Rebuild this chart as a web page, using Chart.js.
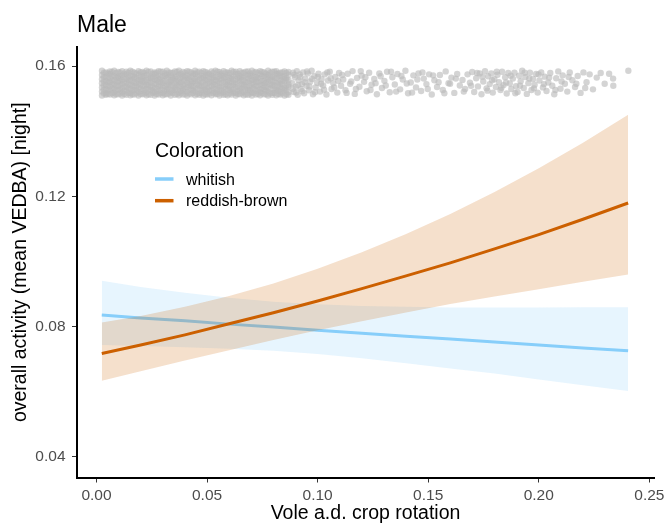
<!DOCTYPE html>
<html>
<head>
<meta charset="utf-8">
<title>Male – overall activity</title>
<script src="https://cdn.jsdelivr.net/npm/chart.js@4.4.1/dist/chart.umd.min.js"></script>
<style>
  html, body { margin: 0; padding: 0; background: #ffffff; }
  #wrap { width: 667px; height: 527px; }
</style>
</head>
<body>
<div id="wrap"><canvas id="chart" width="667" height="527"></canvas></div>
<script>
// ---- predicted activity curves (x = vole a.d. crop rotation) ----
const fitX = [0.0024, 0.02, 0.04, 0.06, 0.08, 0.10, 0.12, 0.14, 0.16, 0.18, 0.20, 0.22, 0.2404];

const whitishFit   = [0.0836, 0.0827, 0.0818, 0.0808, 0.0799, 0.0789, 0.0780, 0.0771, 0.0762, 0.0753, 0.0744, 0.0735, 0.0726];
const whitishLower = [0.0744, 0.0741, 0.0737, 0.0732, 0.0726, 0.0716, 0.0703, 0.0688, 0.0672, 0.0656, 0.0638, 0.0620, 0.0603];
const whitishUpper = [0.0941, 0.0922, 0.0904, 0.0889, 0.0877, 0.0869, 0.0864, 0.0861, 0.0859, 0.0859, 0.0859, 0.0860, 0.0860];

const reddishFit   = [0.0718, 0.0744, 0.0775, 0.0809, 0.0843, 0.0879, 0.0917, 0.0956, 0.0996, 0.1039, 0.1083, 0.1130, 0.1180];
const reddishLower = [0.0634, 0.0663, 0.0696, 0.0728, 0.0759, 0.0789, 0.0817, 0.0844, 0.0870, 0.0893, 0.0915, 0.0938, 0.0960];
const reddishUpper = [0.0813, 0.0833, 0.0861, 0.0894, 0.0933, 0.0978, 0.1029, 0.1085, 0.1146, 0.1214, 0.1287, 0.1365, 0.1451];

// ---- observed nights (jittered rug at the top) ----
// dense stretch at low crop rotation: one x per column, several nights per column
const denseColumnX = [0.0025, 0.0043, 0.0061, 0.0080, 0.0098, 0.0116, 0.0135, 0.0153, 0.0171, 0.0190,
                      0.0208, 0.0226, 0.0245, 0.0263, 0.0281, 0.0300, 0.0318, 0.0336, 0.0355, 0.0373,
                      0.0391, 0.0410, 0.0428, 0.0446, 0.0465, 0.0483, 0.0501, 0.0520, 0.0538, 0.0556,
                      0.0575, 0.0593, 0.0611, 0.0630, 0.0648, 0.0666, 0.0685, 0.0703, 0.0721, 0.0740,
                      0.0758, 0.0776, 0.0795, 0.0813, 0.0831, 0.0850, 0.0868,
                      0.0034, 0.0052, 0.0070, 0.0089, 0.0107, 0.0125, 0.0144, 0.0162, 0.0180, 0.0199,
                      0.0217, 0.0235, 0.0254, 0.0272, 0.0290, 0.0309, 0.0327, 0.0345, 0.0364, 0.0382,
                      0.0400, 0.0419, 0.0437, 0.0455, 0.0474, 0.0492, 0.0510, 0.0529, 0.0547, 0.0565,
                      0.0584, 0.0602, 0.0620, 0.0639, 0.0657, 0.0675, 0.0694, 0.0712, 0.0730, 0.0749,
                      0.0767, 0.0785, 0.0804, 0.0822, 0.0840, 0.0859];
const denseColumnY = [
  [0.1586, 0.1573, 0.1560, 0.1548, 0.1535, 0.1522, 0.1510],
  [0.1581, 0.1568, 0.1555, 0.1543, 0.1530, 0.1517, 0.1512],
  [0.1584, 0.1576, 0.1563, 0.1551, 0.1538, 0.1525, 0.1513],
  [0.1586, 0.1570, 0.1557, 0.1545, 0.1532, 0.1519, 0.1511],
  [0.1582, 0.1569, 0.1564, 0.1552, 0.1539, 0.1527, 0.1514],
  [0.1585, 0.1572, 0.1558, 0.1546, 0.1533, 0.1520, 0.1510],
  [0.1583, 0.1575, 0.1561, 0.1549, 0.1536, 0.1523, 0.1512],
  [0.1586, 0.1571, 0.1559, 0.1544, 0.1531, 0.1518, 0.1511],
  [0.1580, 0.1567, 0.1562, 0.1550, 0.1537, 0.1526, 0.1513],
  [0.1585, 0.1574, 0.1556, 0.1547, 0.1534, 0.1521, 0.1510],
  [0.1582, 0.1570, 0.1560, 0.1553, 0.1540, 0.1524, 0.1514],
  [0.1586, 0.1573, 0.1557, 0.1544, 0.1532, 0.1519, 0.1511],
  [0.1584, 0.1568, 0.1563, 0.1549, 0.1536, 0.1527, 0.1512],
  [0.1581, 0.1576, 0.1559, 0.1546, 0.1533, 0.1520, 0.1510],
  [0.1585, 0.1571, 0.1561, 0.1551, 0.1538, 0.1523, 0.1513],
  [0.1583, 0.1569, 0.1556, 0.1548, 0.1535, 0.1518, 0.1511],
  [0.1586, 0.1574, 0.1564, 0.1545, 0.1530, 0.1525, 0.1514],
  [0.1580, 0.1572, 0.1558, 0.1552, 0.1539, 0.1521, 0.1510],
  [0.1584, 0.1567, 0.1562, 0.1547, 0.1534, 0.1526, 0.1512],
  [0.1586, 0.1575, 0.1557, 0.1550, 0.1537, 0.1519, 0.1511],
  [0.1582, 0.1570, 0.1560, 0.1543, 0.1531, 0.1524, 0.1513],
  [0.1585, 0.1573, 0.1563, 0.1549, 0.1536, 0.1520, 0.1510],
  [0.1581, 0.1568, 0.1555, 0.1546, 0.1540, 0.1527, 0.1514],
  [0.1586, 0.1576, 0.1561, 0.1553, 0.1533, 0.1522, 0.1511],
  [0.1583, 0.1571, 0.1559, 0.1544, 0.1538, 0.1518, 0.1512],
  [0.1585, 0.1569, 0.1564, 0.1550, 0.1532, 0.1525, 0.1510],
  [0.1580, 0.1574, 0.1557, 0.1547, 0.1535, 0.1521, 0.1513],
  [0.1584, 0.1572, 0.1562, 0.1551, 0.1539, 0.1526, 0.1511],
  [0.1586, 0.1567, 0.1558, 0.1545, 0.1530, 0.1519, 0.1514],
  [0.1582, 0.1575, 0.1560, 0.1548, 0.1537, 0.1523, 0.1510],
  [0.1585, 0.1570, 0.1563, 0.1552, 0.1534, 0.1520, 0.1512],
  [0.1581, 0.1573, 0.1556, 0.1543, 0.1540, 0.1527, 0.1511],
  [0.1586, 0.1568, 0.1561, 0.1549, 0.1531, 0.1522, 0.1513],
  [0.1583, 0.1576, 0.1559, 0.1546, 0.1536, 0.1518, 0.1510],
  [0.1585, 0.1571, 0.1564, 0.1553, 0.1533, 0.1525, 0.1514],
  [0.1580, 0.1569, 0.1557, 0.1544, 0.1538, 0.1521, 0.1511],
  [0.1584, 0.1574, 0.1562, 0.1550, 0.1532, 0.1526, 0.1512],
  [0.1586, 0.1572, 0.1558, 0.1547, 0.1535, 0.1519, 0.1510],
  [0.1582, 0.1567, 0.1560, 0.1551, 0.1539, 0.1524, 0.1513],
  [0.1585, 0.1575, 0.1563, 0.1545, 0.1530, 0.1520, 0.1511],
  [0.1581, 0.1570, 0.1556, 0.1548, 0.1537, 0.1527, 0.1514],
  [0.1586, 0.1573, 0.1561, 0.1552, 0.1534, 0.1522, 0.1510],
  [0.1583, 0.1568, 0.1559, 0.1543, 0.1540, 0.1518, 0.1512],
  [0.1585, 0.1576, 0.1564, 0.1549, 0.1531, 0.1525, 0.1511],
  [0.1580, 0.1571, 0.1557, 0.1546, 0.1536, 0.1521, 0.1513],
  [0.1584, 0.1569, 0.1562, 0.1553, 0.1533, 0.1526, 0.1510],
  [0.1582, 0.1574, 0.1558, 0.1544, 0.1538, 0.1520, 0.1512],
  [0.1580, 0.1567, 0.1554, 0.1541, 0.1528, 0.1516],
  [0.1578, 0.1564, 0.1551, 0.1539, 0.1526, 0.1515],
  [0.1582, 0.1569, 0.1556, 0.1543, 0.1530, 0.1517],
  [0.1579, 0.1566, 0.1553, 0.1540, 0.1527, 0.1514],
  [0.1581, 0.1565, 0.1555, 0.1542, 0.1529, 0.1516],
  [0.1577, 0.1568, 0.1552, 0.1538, 0.1525, 0.1515],
  [0.1580, 0.1566, 0.1557, 0.1544, 0.1531, 0.1518],
  [0.1583, 0.1570, 0.1554, 0.1541, 0.1526, 0.1514],
  [0.1578, 0.1565, 0.1550, 0.1539, 0.1528, 0.1517],
  [0.1581, 0.1567, 0.1556, 0.1543, 0.1530, 0.1515],
  [0.1579, 0.1569, 0.1553, 0.1540, 0.1527, 0.1516],
  [0.1582, 0.1564, 0.1551, 0.1542, 0.1529, 0.1514],
  [0.1577, 0.1566, 0.1555, 0.1538, 0.1525, 0.1518],
  [0.1580, 0.1568, 0.1557, 0.1544, 0.1531, 0.1515],
  [0.1583, 0.1565, 0.1552, 0.1541, 0.1528, 0.1517],
  [0.1578, 0.1570, 0.1554, 0.1539, 0.1526, 0.1514],
  [0.1581, 0.1567, 0.1550, 0.1543, 0.1530, 0.1516],
  [0.1579, 0.1564, 0.1556, 0.1540, 0.1527, 0.1518],
  [0.1582, 0.1569, 0.1553, 0.1542, 0.1529, 0.1515],
  [0.1577, 0.1566, 0.1551, 0.1538, 0.1525, 0.1517],
  [0.1580, 0.1568, 0.1555, 0.1544, 0.1531, 0.1514],
  [0.1583, 0.1565, 0.1557, 0.1541, 0.1528, 0.1516],
  [0.1578, 0.1570, 0.1552, 0.1539, 0.1526, 0.1518],
  [0.1581, 0.1567, 0.1554, 0.1543, 0.1530, 0.1515],
  [0.1579, 0.1564, 0.1550, 0.1540, 0.1527, 0.1517],
  [0.1582, 0.1569, 0.1556, 0.1542, 0.1529, 0.1514],
  [0.1577, 0.1566, 0.1553, 0.1538, 0.1525, 0.1516],
  [0.1580, 0.1568, 0.1551, 0.1544, 0.1531, 0.1518],
  [0.1583, 0.1565, 0.1555, 0.1541, 0.1528, 0.1515],
  [0.1578, 0.1570, 0.1557, 0.1539, 0.1526, 0.1517],
  [0.1581, 0.1567, 0.1552, 0.1543, 0.1530, 0.1514],
  [0.1579, 0.1564, 0.1554, 0.1540, 0.1527, 0.1516],
  [0.1582, 0.1569, 0.1550, 0.1542, 0.1529, 0.1518],
  [0.1577, 0.1566, 0.1556, 0.1538, 0.1525, 0.1515],
  [0.1580, 0.1568, 0.1553, 0.1544, 0.1531, 0.1517],
  [0.1583, 0.1565, 0.1551, 0.1541, 0.1528, 0.1514],
  [0.1578, 0.1570, 0.1555, 0.1539, 0.1526, 0.1516],
  [0.1581, 0.1567, 0.1557, 0.1543, 0.1530, 0.1518],
  [0.1579, 0.1564, 0.1552, 0.1540, 0.1527, 0.1515],
  [0.1582, 0.1569, 0.1554, 0.1542, 0.1529, 0.1517],
  [0.1577, 0.1566, 0.1550, 0.1538, 0.1525, 0.1514],
  [0.1580, 0.1568, 0.1556, 0.1544, 0.1531, 0.1516],
  [0.1583, 0.1565, 0.1553, 0.1541, 0.1528, 0.1518],
  [0.1578, 0.1570, 0.1551, 0.1539, 0.1526, 0.1515],
  [0.1581, 0.1567, 0.1555, 0.1543, 0.1530, 0.1517],
  [0.1579, 0.1564, 0.1557, 0.1540, 0.1527, 0.1514]
];

// thinner stretch at higher crop rotation
const sparseX = [0.0885,0.0889,0.0892,0.0897,0.0901,0.0906,0.0910,0.0914,0.0919,0.0924,
                 0.0929,0.0934,0.0939,0.0944,0.0950,0.0956,0.0961,0.0967,0.0973,0.0979,
                 0.0985,0.0991,0.0998,0.1004,0.1011,0.1018,0.1025,0.1032,0.1040,0.1047,
                 0.1055,0.1063,0.1071,0.1080,0.1089,0.1097,0.1106,0.1116,0.1126,0.1136,
                 0.1147,0.1158,0.1168,0.1178,0.1189,0.1199,0.1210,0.1222,0.1233,0.1244,
                 0.1256,0.1268,0.1279,0.1291,0.1302,0.1314,0.1326,0.1338,0.1349,0.1361,
                 0.1373,0.1385,0.1397,0.1409,0.1421,0.1433,0.1445,0.1456,0.1468,0.1480,
                 0.1492,0.1504,0.1516,0.1528,0.1540,0.1553,0.1566,0.1579,0.1592,0.1605,
                 0.1618,0.1631,0.1643,0.1655,0.1667,0.1678,0.1689,0.1699,0.1708,0.1717,
                 0.1725,0.1733,0.1741,0.1749,0.1757,0.1764,0.1771,0.1778,0.1785,0.1792,
                 0.1799,0.1806,0.1813,0.1820,0.1827,0.1834,0.1841,0.1848,0.1855,0.1862,
                 0.1869,0.1876,0.1883,0.1890,0.1897,0.1904,0.1911,0.1918,0.1925,0.1932,
                 0.1939,0.1946,0.1953,0.1960,0.1967,0.1974,0.1981,0.1988,0.1995,0.2003,
                 0.2011,0.2019,0.2027,0.2035,0.2043,0.2052,0.2061,0.2070,0.2079,0.2088,
                 0.2098,0.2108,0.2118,0.2129,0.2140,0.2152,0.2164,0.2176,0.2189,0.2202,
                 0.2216,0.2230,0.2245,0.2262,0.2280,0.2298,0.2318,0.2337,0.2405,
                 0.0887,0.0895,0.0903,0.0912,0.0921,0.0931,0.0941,0.0952,0.0963,0.0975,
                 0.0988,0.1001,0.1015,0.1029,0.1044,0.1059,0.1075,0.1093,0.1111,0.1131,
                 0.1152,0.1173,0.1195,0.1216,0.1239,0.1262,0.1285,0.1308,0.1332,0.1355,
                 0.1379,0.1403,0.1427,0.1451,0.1474,0.1498,0.1522,0.1547,0.1573,0.1599,
                 0.1625,0.1661,0.1694,0.1721,0.1745,0.1768,0.1789,0.1810,0.1831,0.1852,
                 0.1873,0.1894,0.1915,0.1936,0.1957,0.1978,0.1999,0.2023,0.2047,0.2075,
                 0.2103,0.2135,0.2170,0.2210,0.2336];
const sparseY = [0.1548,0.1580,0.1521,0.1566,0.1537,0.1585,0.1512,0.1557,0.1575,0.1530,
                 0.1545,0.1581,0.1517,0.1562,0.1540,0.1578,0.1526,0.1553,0.1586,0.1514,
                 0.1569,0.1535,0.1549,0.1577,0.1522,0.1560,0.1541,0.1575,0.1513,0.1556,
                 0.1583,0.1530,0.1548,0.1567,0.1519,0.1579,0.1540,0.1559,0.1526,0.1577,
                 0.1546,0.1585,0.1515,0.1564,0.1537,0.1571,0.1552,0.1523,0.1580,0.1543,
                 0.1561,0.1514,0.1578,0.1533,0.1555,0.1583,0.1520,0.1566,0.1544,0.1576,
                 0.1529,0.1559,0.1586,0.1517,0.1550,0.1572,0.1535,0.1578,0.1524,0.1562,
                 0.1545,0.1575,0.1513,0.1557,0.1536,0.1573,0.1527,0.1584,0.1548,0.1565,
                 0.1518,0.1576,0.1541,0.1558,0.1530,0.1575,0.1549,0.1582,0.1521,0.1563,
                 0.1538,0.1578,0.1514,0.1553,0.1585,0.1532,0.1569,0.1545,0.1578,0.1519,
                 0.1560,0.1536,0.1574,0.1551,0.1527,0.1583,0.1542,0.1566,0.1516,0.1579,
                 0.1547,0.1530,0.1562,0.1580,0.1539,0.1521,0.1571,0.1554,0.1586,0.1533,
                 0.1567,0.1515,0.1548,0.1580,0.1527,0.1561,0.1543,0.1576,0.1519,0.1556,
                 0.1581,0.1535,0.1568,0.1524,0.1550,0.1579,0.1540,0.1514,0.1563,0.1584,
                 0.1531,0.1572,0.1546,0.1522,0.1581,0.1557,0.1536,0.1570,0.1518,0.1581,
                 0.1551,0.1575,0.1529,0.1565,0.1579,0.1546,0.1577,0.1540,0.1586,
                 0.1531,0.1574,0.1519,0.1542,0.1566,0.1523,0.1551,0.1584,0.1538,0.1561,
                 0.1520,0.1567,0.1546,0.1528,0.1581,0.1563,0.1535,0.1555,0.1573,0.1518,
                 0.1553,0.1530,0.1585,0.1566,0.1527,0.1548,0.1569,0.1541,0.1583,0.1522,
                 0.1570,0.1547,0.1519,0.1559,0.1581,0.1530,0.1572,0.1551,0.1517,0.1546,
                 0.1562,0.1522,0.1540,0.1579,0.1568,0.1525,0.1557,0.1583,0.1534,0.1550,
                 0.1571,0.1517,0.1540,0.1580,0.1562,0.1532,0.1575,0.1545,0.1565,0.1527,
                 0.1553,0.1567,0.1546,0.1533,0.1562];

// ---- axes and labels ----
const xTicks = [0.00, 0.05, 0.10, 0.15, 0.20, 0.25];
const yTicks = [0.04, 0.08, 0.12, 0.16];
const groupNames = ['whitish', 'reddish-brown'];
const groupColors = ['#87CEFA', '#CC6000'];
const ribbonColors = ['rgba(135,206,250,0.20)', 'rgba(204,102,0,0.20)'];

const FONT = "'Liberation Sans', Arial, Helvetica, sans-serif";

// build {x,y} points
const toXY = (ys) => fitX.map((x, i) => ({ x: x, y: ys[i] }));
const observed = [];
denseColumnX.forEach((x, i) => (denseColumnY[i] || []).forEach(y => observed.push({ x: x, y: y })));
sparseX.forEach((x, i) => { if (i < sparseY.length) observed.push({ x: x, y: sparseY[i] }); });

const hidden = 'rgba(0,0,0,0)';
const bandEdge = (ys, fillTarget, color, order) => ({
  type: 'line', data: toXY(ys), showLine: true, pointRadius: 0,
  borderWidth: 0, borderColor: hidden, backgroundColor: color,
  fill: fillTarget, order: order, tension: 0
});
const fitLine = (ys, color, order) => ({
  type: 'line', data: toXY(ys), showLine: true, pointRadius: 0,
  borderWidth: 3, borderColor: color, backgroundColor: color,
  fill: false, order: order, tension: 0, borderCapStyle: 'butt'
});

// title and legend drawn on the canvas
const annotations = {
  id: 'annotations',
  afterDraw(chart) {
    const ctx = chart.ctx;
    ctx.save();
    ctx.fillStyle = '#000000';
    ctx.textAlign = 'left';
    ctx.textBaseline = 'alphabetic';
    ctx.font = `23px ${FONT}`;
    ctx.fillText('Male', 77, 32.3);

    ctx.font = `19.5px ${FONT}`;
    ctx.fillText('Coloration', 155, 156.5);

    const keyY = [179, 200.7];
    const textY = [184.6, 206.2];
    ctx.font = `16px ${FONT}`;
    groupNames.forEach((name, i) => {
      ctx.strokeStyle = groupColors[i];
      ctx.lineWidth = 3.5;
      ctx.beginPath();
      ctx.moveTo(155, keyY[i]);
      ctx.lineTo(173.5, keyY[i]);
      ctx.stroke();
      ctx.fillStyle = '#000000';
      ctx.fillText(name, 186, textY[i]);
    });
    ctx.restore();
  }
};

const axisCommon = {
  type: 'linear',
  border: { display: true, color: '#000000', width: 2 },
  grid: { display: true, drawOnChartArea: false, drawTicks: true, tickLength: 5, color: '#333333', lineWidth: 1 },
};

new Chart(document.getElementById('chart'), {
  type: 'scatter',
  data: {
    datasets: [
      { type: 'scatter', data: observed, pointRadius: 3.2, pointHoverRadius: 3.2,
        backgroundColor: 'rgba(186,186,186,0.62)', borderColor: hidden, borderWidth: 0, order: 9 },
      bandEdge(whitishUpper, 2, ribbonColors[0], 8),
      bandEdge(whitishLower, false, ribbonColors[0], 8),
      fitLine(whitishFit, groupColors[0], 6),
      bandEdge(reddishUpper, 5, ribbonColors[1], 4),
      bandEdge(reddishLower, false, ribbonColors[1], 4),
      fitLine(reddishFit, groupColors[1], 2)
    ]
  },
  options: {
    responsive: false,
    devicePixelRatio: 1,
    animation: false,
    events: [],
    layout: { padding: { left: 0, top: 47, right: 13, bottom: 0 } },
    plugins: {
      legend: { display: false },
      title: { display: false },
      tooltip: { enabled: false }
    },
    scales: {
      x: Object.assign({}, axisCommon, {
        position: 'bottom',
        min: -0.0088, max: 0.2521,
        afterBuildTicks: (s) => { s.ticks = xTicks.map(v => ({ value: v })); },
        afterFit: (s) => { s.height = 49.5; s.paddingLeft = 0; s.paddingRight = 0; },
        ticks: { autoSkip: false, maxRotation: 0, padding: 4, color: '#4D4D4D',
                 font: { family: FONT, size: 15.5 }, callback: (v) => Number(v).toFixed(2) },
        title: { display: true, text: 'Vole a.d. crop rotation', color: '#000000',
                 font: { family: FONT, size: 19.5 }, padding: { top: 0, bottom: 2.1 } }
      }),
      y: Object.assign({}, axisCommon, {
        position: 'left',
        min: 0.0337, max: 0.1659,
        afterBuildTicks: (s) => { s.ticks = yTicks.map(v => ({ value: v })); },
        afterFit: (s) => { s.width = 77; s.paddingTop = 0; s.paddingBottom = 0; },
        ticks: { autoSkip: false, padding: 6.5, color: '#4D4D4D',
                 font: { family: FONT, size: 15.5 }, callback: (v) => Number(v).toFixed(2) },
        title: { display: true, text: 'overall activity (mean VEDBA) [night]', color: '#000000',
                 font: { family: FONT, size: 19.5 }, padding: { top: 8.5, bottom: 0 } }
      })
    }
  },
  plugins: [annotations]
});
</script>
</body>
</html>
